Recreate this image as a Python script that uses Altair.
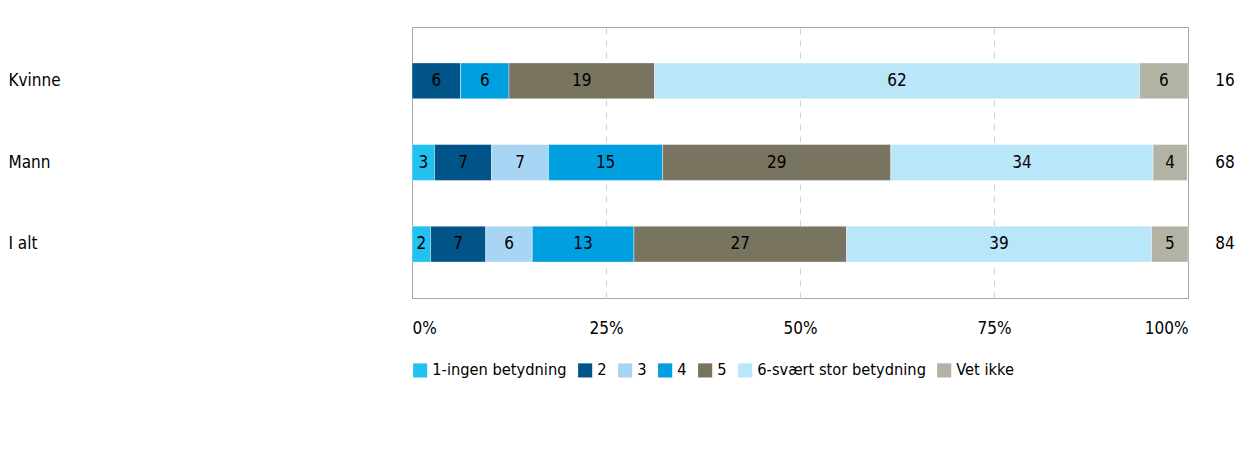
import altair as alt
import pandas as pd

groups = ["Kvinne", "Mann", "I alt"]
categories = ["1-ingen betydning", "2", "3", "4", "5", "6-svært stor betydning", "Vet ikke"]
colors = ["#21C1F0", "#005487", "#A9D5F5", "#009FE0", "#78745F", "#BAE6FA", "#B3B3A5"]

# percentages
values = {
    "Kvinne": [0.0, 6.25, 0.0, 6.25, 18.75, 62.5, 6.25],
    "Mann":   [2.9, 7.35, 7.35, 14.7, 29.4, 33.8, 4.4],
    "I alt":  [2.4, 7.1, 6.0, 13.1, 27.4, 39.3, 4.7],
}
labels = {
    "Kvinne": ["", "6", "", "6", "19", "62", "6"],
    "Mann":   ["3", "7", "7", "15", "29", "34", "4"],
    "I alt":  ["2", "7", "6", "13", "27", "39", "5"],
}
n_values = ["16", "68", "84"]
x_ticks = [0, 25, 50, 75, 100]

rows = []
for g in groups:
    for i, c in enumerate(categories):
        rows.append({"group": g, "cat": c, "order": i, "val": values[g][i], "lab": labels[g][i]})
df = pd.DataFrame(rows)
ndf = pd.DataFrame({"group": groups, "n": n_values})

FONT = "DejaVu Sans Condensed"
FS = 17
W, H = 776, 271

ysc = alt.Scale(domain=groups, paddingInner=0.56, paddingOuter=0.44)
xsc = alt.Scale(domain=[0, 100], nice=False)

base = alt.Chart(df).transform_stack(
    stack="val", groupby=["group"], sort=[alt.SortField("order")], as_=["x0", "x1"]
).transform_calculate(mid="(datum.x0 + datum.x1) / 2")

bars = base.mark_bar(stroke="white", strokeWidth=0.4).encode(
    y=alt.Y("group:N", scale=ysc, sort=groups, title=None,
            axis=alt.Axis(labelAlign="left", labelPadding=404, ticks=False, domain=False,
                          labelFontSize=FS, labelFont=FONT, labelColor="#000")),
    x=alt.X("x0:Q", scale=xsc, title=None,
            axis=alt.Axis(values=x_ticks, labelExpr="datum.value + '%'", ticks=False, domain=False,
                          labelFlush=True, labelPadding=22, labelFontSize=FS, labelFont=FONT,
                          labelColor="#000", grid=True, gridDash=[6, 6], gridColor="#CFCFCF",
                          gridWidth=1,
                          gridOpacity={"condition": {"test": "datum.value == 0 || datum.value == 100",
                                                     "value": 0}, "value": 1})),
    x2="x1:Q",
    color=alt.Color("cat:N", scale=alt.Scale(domain=categories, range=colors), title=None,
                    legend=alt.Legend(orient="bottom", direction="horizontal", symbolType="square",
                                      symbolSize=200, symbolStrokeWidth=0, labelFontSize=16.3,
                                      labelFont=FONT, labelColor="#000", columnPadding=10,
                                      labelOffset=4, offset=26, symbolOpacity=1, labelLimit=400)),
)

texts = base.transform_filter("datum.val > 0").mark_text(
    fontSize=FS, font=FONT, color="#000", baseline="middle", align="center"
).encode(
    y=alt.Y("group:N", scale=ysc, sort=groups),
    x=alt.X("mid:Q", scale=xsc),
    text="lab:N",
)

ntext = alt.Chart(ndf).mark_text(fontSize=FS, font=FONT, color="#000", baseline="middle",
                                 align="center").encode(
    y=alt.Y("group:N", scale=ysc, sort=groups),
    x=alt.value(W + 37),
    text="n:N",
)

chart = alt.layer(bars, texts, ntext).properties(
    width=W, height=H, padding={"left": 0, "top": 19, "right": 0, "bottom": 0}
).configure_view(stroke="#A6A6A6", strokeWidth=1)

chart.save("out.html", embed_options={"renderer": "svg", "actions": False})
